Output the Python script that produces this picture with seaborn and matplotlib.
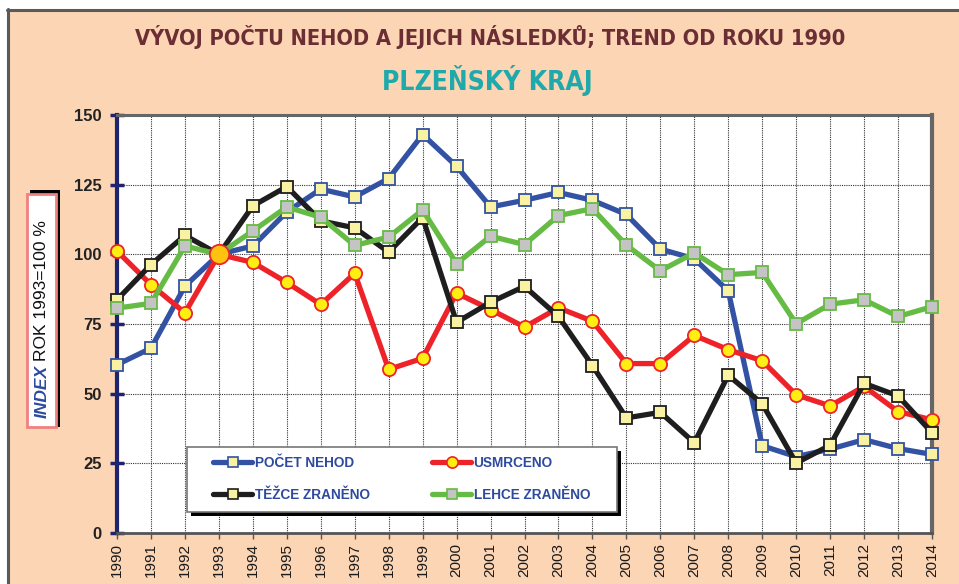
import matplotlib
matplotlib.use("Agg")
import matplotlib.pyplot as plt
from matplotlib import font_manager
from matplotlib.patches import Rectangle
from matplotlib.lines import Line2D
import seaborn as sns
import pandas as pd

# ---- data (index, year 1993 = 100 %) ----
years = list(range(1990, 2015))
pocet_nehod = [60.4, 66.3, 88.6, 100, 103.0, 115.2, 123.4, 120.6, 127.2, 143.0, 131.6,
               117.0, 119.4, 122.2, 119.4, 114.3, 101.9, 98.4, 86.9, 31.3, 27.4, 30.1,
               33.5, 30.3, 28.2]
usmrceno = [101.2, 89.1, 79.0, 100, 97.1, 89.9, 82.0, 93.2, 58.7, 62.7, 86.1,
            80.2, 73.9, 80.8, 76.0, 60.8, 60.8, 70.9, 65.8, 61.8, 49.6, 45.6,
            52.6, 43.6, 40.6]
tezce_zraneno = [83.7, 96.3, 106.8, 100, 117.4, 124.3, 112.0, 109.5, 100.8, 113.2, 75.6,
                 82.8, 88.5, 77.7, 60.1, 41.3, 43.3, 32.4, 56.6, 46.4, 25.1, 31.5,
                 53.7, 49.2, 36.0]
lehce_zraneno = [80.7, 82.4, 103.0, 100, 108.4, 117.0, 113.3, 103.2, 106.2, 115.9, 96.7,
                 106.5, 103.5, 113.9, 116.4, 103.3, 94.1, 100.5, 92.7, 93.5, 75.1, 82.1,
                 83.7, 77.7, 81.2]
series_names = ["POČET NEHOD", "USMRCENO", "TĚŽCE ZRANĚNO", "LEHCE ZRANĚNO"]
y_ticks = [0, 25, 50, 75, 100, 125, 150]
base_year, base_value = 1993, 100

df = pd.DataFrame({"rok": years, "POČET NEHOD": pocet_nehod, "USMRCENO": usmrceno,
                   "TĚŽCE ZRANĚNO": tezce_zraneno, "LEHCE ZRANĚNO": lehce_zraneno})

# ---- fonts ----
names = {f.name for f in font_manager.fontManager.ttflist}
sans = "Liberation Sans" if "Liberation Sans" in names else "DejaVu Sans"
has_condensed = any(f.name == "DejaVu Sans" and f.stretch == "condensed"
                    for f in font_manager.fontManager.ttflist)

sns.set_theme(style="white")
plt.rcParams["font.family"] = [sans, "DejaVu Sans"]

W, H = 959, 584
fig = plt.figure(figsize=(W / 100, H / 100), dpi=100, facecolor="white")

def fx(px):
    return px / W

def fy(py):
    return 1 - py / H

PEACH = "#FCD5B4"
# page background with frame on the left and top
fig.patches.append(Rectangle((fx(8), 0), 1 - fx(8), fy(10), transform=fig.transFigure,
                             facecolor=PEACH, edgecolor="none", zorder=-10))
fig.lines.append(Line2D([fx(8), fx(8)], [0, fy(9)], transform=fig.transFigure,
                        color="#5a5a5a", lw=2.2))
fig.lines.append(Line2D([fx(7), 1], [fy(9.5), fy(9.5)], transform=fig.transFigure,
                        color="#5a5a5a", lw=2.2))

AX_L, AX_R, AX_T, AX_B = 117, 932, 115, 533
ax = fig.add_axes([fx(AX_L), fy(AX_B), fx(AX_R) - fx(AX_L), fy(AX_T) - fy(AX_B)])
ax.set_facecolor("white")

def axx(px):
    return (px - AX_L) / (AX_R - AX_L)

def axy(py):
    return (AX_B - py) / (AX_B - AX_T)

styles = {
    "POČET NEHOD": dict(color="#3352A3", marker="s", mfc="#F8F2A2", mec="#3352A3", ms=8.5, z=3),
    "USMRCENO": dict(color="#EE2229", marker="o", mfc="#FFEE11", mec="#EE2229", ms=9.5, z=4),
    "TĚŽCE ZRANĚNO": dict(color="#1E1E1E", marker="s", mfc="#F8F2A2", mec="#1E1E1E", ms=8.5, z=5),
    "LEHCE ZRANĚNO": dict(color="#66BB44", marker="s", mfc="#C4C4C4", mec="#66BB44", ms=8.5, z=6),
}

handles = {}
for name in series_names:
    st = styles[name]
    sns.lineplot(data=df, x="rok", y=name, ax=ax, color=st["color"], lw=3.8,
                 marker=st["marker"], markersize=st["ms"], markerfacecolor=st["mfc"],
                 markeredgecolor=st["mec"], markeredgewidth=1.3, zorder=st["z"],
                 clip_on=False, legend=False)
    handles[name] = Line2D([], [], color=st["color"], lw=3.8, marker=st["marker"],
                           markersize=st["ms"] * 0.85, markerfacecolor=st["mfc"],
                           markeredgecolor=st["mec"], markeredgewidth=1.2)

# common reference point
ax.plot([base_year], [base_value], marker="o", ms=14, mfc="#FFC20E", mec="#EE2229",
        mew=1.3, zorder=8, clip_on=False, ls="none")

ax.set_xlim(years[0], years[-1])
ax.set_ylim(y_ticks[0], y_ticks[-1])
ax.set_xticks(years)
ax.set_xticklabels([str(y) for y in years], rotation=90, fontsize=11, color="#1a1a1a")
ax.set_yticks(y_ticks)
ax.set_yticklabels([str(v) for v in y_ticks], fontsize=12, fontweight="bold", color="#222222")
ax.set_xlabel("")
ax.set_ylabel("")
ax.grid(True, color="#333333", ls=(0, (1, 1)), lw=0.8, zorder=0)
ax.set_axisbelow(True)

ax.spines["left"].set_color("#1F2470")
ax.spines["left"].set_linewidth(3)
ax.spines["bottom"].set_color("#555555")
ax.spines["bottom"].set_linewidth(2)
ax.spines["top"].set_color("#666666")
ax.spines["top"].set_linewidth(2.2)
ax.spines["right"].set_color("#666666")
ax.spines["right"].set_linewidth(3)
ax.tick_params(axis="y", direction="inout", length=10, width=2.5, color="#1F2470",
               pad=6, left=True)
ax.tick_params(axis="x", direction="out", length=4, width=1, color="#555555", pad=3,
               bottom=True)

# legend box with a solid shadow
box_l, box_r, box_t, box_b = 187, 617, 447, 512
ax.add_patch(Rectangle((axx(box_l + 4), axy(box_b + 4)), axx(box_r) - axx(box_l),
                       axy(box_t) - axy(box_b), transform=ax.transAxes,
                       facecolor="black", edgecolor="none", zorder=15, clip_on=False))
ax.add_patch(Rectangle((axx(box_l), axy(box_b)), axx(box_r) - axx(box_l),
                       axy(box_t) - axy(box_b), transform=ax.transAxes,
                       facecolor="white", edgecolor="#777777", lw=1.2, zorder=16,
                       clip_on=False))

# legend filled column-wise, so this order gives rows (POČET, USMRCENO), (TĚŽCE, LEHCE)
leg_order = ["POČET NEHOD", "TĚŽCE ZRANĚNO", "USMRCENO", "LEHCE ZRANĚNO"]
leg = ax.legend([handles[n] for n in leg_order], leg_order, ncol=2, loc="center",
                bbox_to_anchor=(axx(213), axy(479) - 0.05, axx(590) - axx(213), 0.1),
                mode="expand", frameon=False, borderpad=0, borderaxespad=0,
                handlelength=2.9, handletextpad=0.15, labelspacing=1.3,
                columnspacing=1.0, prop={"family": sans, "weight": "bold", "size": 9.8})
leg.set_zorder(20)
for t in leg.get_texts():
    t.set_color("#2E4A9E")

# titles
title_kw = dict(fontstretch="condensed", family="DejaVu Sans") if has_condensed else dict(family=sans)
t_main = fig.text(fx(490), fy(37), "VÝVOJ POČTU NEHOD A JEJICH NÁSLEDKŮ; TREND OD ROKU 1990",
                  ha="center", va="center", fontsize=20, fontweight="bold",
                  color="#6B2E34", **title_kw)
t_sub = fig.text(fx(487), fy(80), "PLZEŇSKÝ KRAJ", ha="center", va="center", fontsize=20,
                 fontweight="bold", color="#1FA9AA", **title_kw)

# axis caption box
fig.patches.append(Rectangle((fx(30), fy(427)), fx(60) - fx(30), fy(190) - fy(427),
                             transform=fig.transFigure, facecolor="black",
                             edgecolor="none", zorder=1))
fig.patches.append(Rectangle((fx(27), fy(427)), fx(56) - fx(27), fy(194) - fy(427),
                             transform=fig.transFigure, facecolor="white",
                             edgecolor="#F08080", lw=2, zorder=2))
t1 = fig.text(fx(42), fy(418), "INDEX", rotation=90, ha="center", va="bottom",
              fontsize=12.5, fontweight="bold", fontstyle="italic", color="#2E4A9E",
              zorder=3)
fig.canvas.draw()
renderer = fig.canvas.get_renderer()
# fit the titles to their spans
for txt, span in ((t_main, 715), (t_sub, 210)):
    w = txt.get_window_extent(renderer).width
    if w > span:
        txt.set_fontsize(txt.get_fontsize() * span / w)
bb = t1.get_window_extent(renderer)
fig.text(fx(42), (bb.y1 + 4) / H, "ROK 1993=100 %", rotation=90, ha="center",
         va="bottom", fontsize=12.5, color="#111111", zorder=3)

fig.savefig("out.png", dpi=100, facecolor=fig.get_facecolor())
